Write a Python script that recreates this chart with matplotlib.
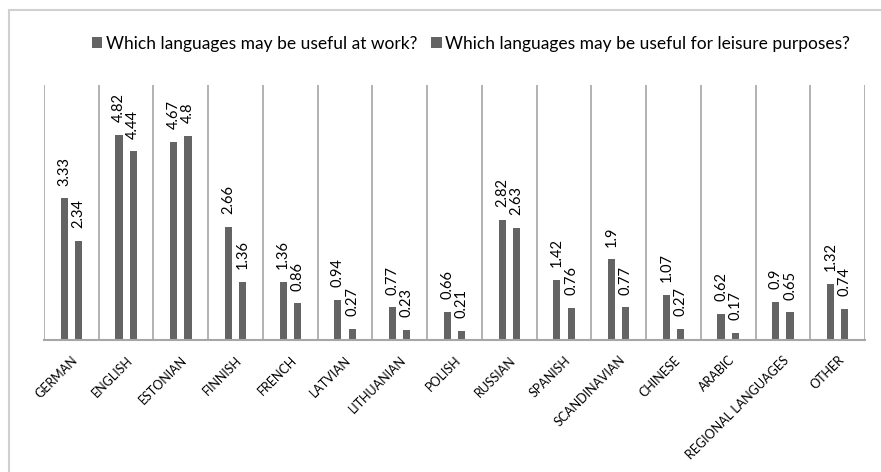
import matplotlib
matplotlib.use('Agg')
import matplotlib.pyplot as plt
import numpy as np
from matplotlib.patches import Rectangle

plt.rcParams['font.family'] = ['Lato', 'DejaVu Sans']

languages = ['GERMAN', 'ENGLISH', 'ESTONIAN', 'FINNISH', 'FRENCH', 'LATVIAN',
             'LITHUANIAN', 'POLISH', 'RUSSIAN', 'SPANISH', 'SCANDINAVIAN',
             'CHINESE', 'ARABIC', 'REGIONAL LANGUAGES', 'OTHER']
work = [3.33, 4.82, 4.67, 2.66, 1.36, 0.94, 0.77, 0.66, 2.82, 1.42, 1.9,
        1.07, 0.62, 0.9, 1.32]
leisure = [2.34, 4.44, 4.8, 1.36, 0.86, 0.27, 0.23, 0.21, 2.63, 0.76, 0.77,
           0.27, 0.17, 0.65, 0.74]
series_names = ['Which languages may be useful at work?',
                'Which languages may be useful for leisure purposes?']

bar_color = '#646464'
grid_color = '#A6A6A6'

fig = plt.figure(figsize=(8.81, 4.72), dpi=100)
# outer chart frame (runs off the right and bottom edges)
fig.patches.append(Rectangle((9 / 881, -0.05), 1.0, (472 - 10) / 472 + 0.05,
                             transform=fig.transFigure, fill=False,
                             edgecolor='#D0D0D0', linewidth=1.5))

ax = fig.add_axes([44 / 881, 132 / 472, 821 / 881, 255 / 472])
x = np.arange(len(languages))
w = 0.13
b1 = ax.bar(x - 0.13, work, w, color=bar_color, label=series_names[0])
b2 = ax.bar(x + 0.13, leisure, w, color=bar_color, label=series_names[1])

for bars, vals in [(b1, work), (b2, leisure)]:
    for rect, v in zip(bars, vals):
        ax.text(rect.get_x() + rect.get_width() / 2, v + 0.3, '{:g}'.format(v),
                rotation=90, ha='center', va='bottom', fontsize=10.5)

ax.set_xlim(-0.5, len(languages) - 0.5)
ax.set_ylim(0, 6)
for b in np.arange(-0.5, len(languages), 1.0):
    ax.axvline(b, color=grid_color, linewidth=1.2, zorder=0)

for s in ['top', 'right', 'left']:
    ax.spines[s].set_visible(False)
ax.spines['bottom'].set_color(grid_color)
ax.spines['bottom'].set_linewidth(1.5)
ax.set_yticks([])
ax.set_xticks(x)
ax.set_xticklabels(languages, rotation=45, ha='right', rotation_mode='anchor',
                   fontsize=9)
ax.tick_params(axis='x', length=0, pad=10)

fig.legend(handles=[b1, b2], loc='center', bbox_to_anchor=(471 / 881, 1 - 44 / 472),
           ncol=2, frameon=False, fontsize=12.5, handlelength=0.6, handleheight=0.6,
           handletextpad=0.2, columnspacing=0.8)

plt.savefig('out.png', dpi=100)
